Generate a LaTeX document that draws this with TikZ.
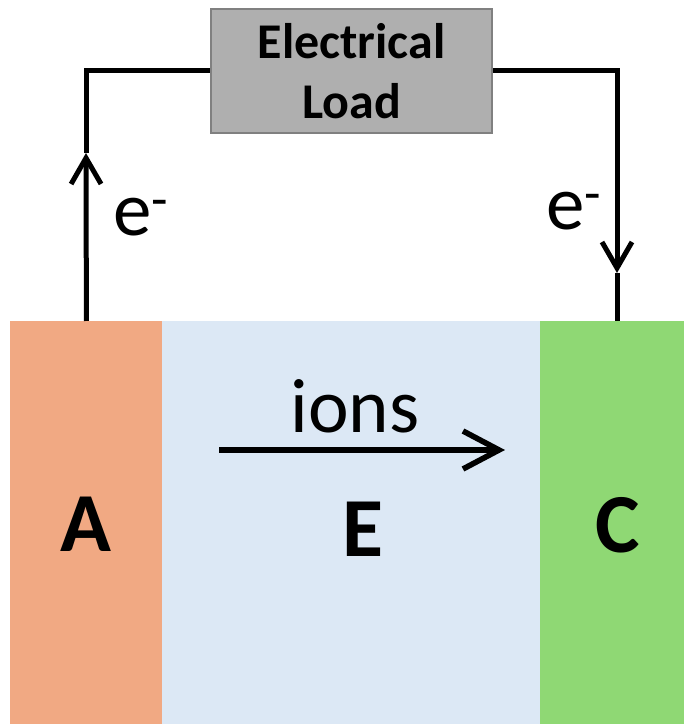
\documentclass[tikz,border=0pt]{standalone}
\usepackage{fontspec}
\setmainfont{Carlito}
\usetikzlibrary{arrows.meta,positioning}
\definecolor{anodecol}{RGB}{241,169,131}
\definecolor{elytecol}{RGB}{220,232,245}
\definecolor{cathcol}{RGB}{143,216,116}
\definecolor{loadfill}{RGB}{175,175,175}
\definecolor{loaddraw}{RGB}{128,128,128}
\begin{document}
\begin{tikzpicture}[x=0.5pt,y=0.5pt,
 wire/.style={line width=2.5pt},
 flow/.style={wire,-{Straight Barb[length=13pt,width=15pt]}},
 layer/.style={inner sep=0pt,minimum height=201.5pt,anchor=north west},
 big/.style={font=\fontsize{42}{48}\selectfont\bfseries,anchor=base},
 lab/.style={font=\fontsize{38.5}{44}\selectfont,anchor=base}]
\useasboundingbox (0,0) rectangle (684,724);
% cell layers
\node[layer,fill=anodecol,minimum width=76pt] (anode) at (10,403) {};
\node[layer,fill=elytecol,minimum width=189pt] (elyte) at (162,403) {};
\node[layer,fill=cathcol,minimum width=72pt] (cathode) at (540,403) {};
\node[big] (anodelab) at (86,172) {A};
\node[big] (elytelab) at (363,167) {E};
\node[big] (cathlab) at (618,171) {C};
% load
\node[draw=loaddraw,line width=1.4pt,fill=loadfill,minimum width=140.5pt,minimum height=62pt,
 align=center,font=\fontsize{25}{30}\selectfont\bfseries] (load) at (351.5,653) {Electrical\\Load};
% wires
\coordinate (ltip) at (86,571);
\coordinate (rtip) at (617,451);
\draw[flow] (anode.north) -- (ltip);
\draw[wire] (ltip) |- (load.west);
\draw[flow] (load.east) -| (rtip);
\draw[wire] (rtip) -- (cathode.north -| rtip);
\node[lab,anchor=base west] (eleft) at (106,488) {e\textsuperscript{-}};
\node[lab,anchor=base west] (eright) at (539,494) {e\textsuperscript{-}};
% ion flow
\coordinate (ionstart) at (219,274);
\coordinate (ionend) at (505,274);
\draw[line width=2.8pt,-{Straight Barb[length=18pt,width=19pt]}] (ionstart) -- (ionend);
\node[lab] (ions) at (355,291) {ions};
\end{tikzpicture}
\end{document}
